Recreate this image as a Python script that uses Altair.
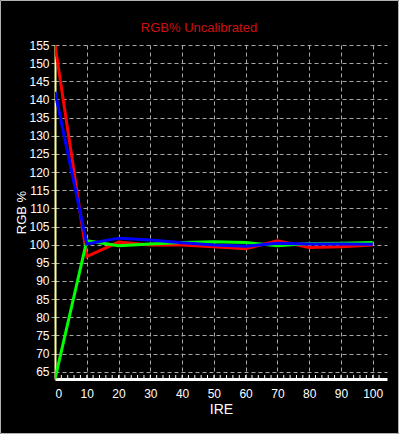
import altair as alt
import pandas as pd

ire = [0, 10, 20, 30, 40, 50, 60, 70, 80, 90, 100]
red = [155.0, 96.7, 100.7, 99.9, 99.9, 99.4, 98.9, 101.1, 99.2, 99.4, 99.9]
green = [63.0, 101.1, 99.7, 100.2, 100.6, 100.8, 100.6, 99.7, 100.3, 100.4, 100.6]
blue = [142.1, 100.2, 101.8, 101.3, 100.5, 99.9, 99.6, 100.4, 100.2, 100.2, 100.1]

series = ["Red", "Green", "Blue"]
colors = ["#ff0000", "#00ff00", "#0000ff"]

y_ticks = list(range(65, 156, 5))
x_ticks = list(range(0, 101, 10))
minor_ticks = list(range(2, 104, 2))

title_text = "RGB% Uncalibrated"

rows = []
for name, vals in zip(series, [red, green, blue]):
    for i, v in zip(ire, vals):
        rows.append({"IRE": i, "value": v, "series": name, "order": series.index(name)})
df = pd.DataFrame(rows)

W, H = 332, 334
xscale = alt.Scale(domain=[0, 104.5], nice=False, zero=False)
yscale = alt.Scale(domain=[63, 155], nice=False, zero=False)

grid_color = "#a8a8a8"

base_x = alt.Axis(
    values=x_ticks, grid=True, gridColor=grid_color, gridDash=[4, 3], gridWidth=1,
    domainColor="#ffffff", domainWidth=3, ticks=False,
    labelColor="#ffffff", labelFont="Liberation Sans", labelFontSize=12, labelPadding=9,
    title="IRE", titleColor="#ffffff", titleFont="Liberation Sans", titleFontSize=14,
    titleFontWeight="normal", titlePadding=3,
)
base_y = alt.Axis(
    values=y_ticks, grid=True, gridColor=grid_color, gridDash=[4, 3], gridWidth=1,
    domainColor="#ffff99", domainWidth=2, ticks=True, tickColor=grid_color, tickSize=4,
    labelColor="#ffffff", labelFont="Liberation Sans", labelFontSize=12, labelPadding=2,
    title="RGB %", titleColor="#ffffff", titleFont="Liberation Sans", titleFontSize=13,
    titleFontWeight="normal", titlePadding=0,
)

lines = alt.Chart(df).mark_line(strokeWidth=3, clip=True).encode(
    x=alt.X("IRE:Q", scale=xscale, axis=base_x),
    y=alt.Y("value:Q", scale=yscale, axis=base_y),
    color=alt.Color("series:N", scale=alt.Scale(domain=series, range=colors), legend=None),
    detail="series:N",
    order="order:Q",
)

minor_df = pd.DataFrame({"IRE": minor_ticks})
minor = alt.Chart(minor_df).mark_rule(color="#ffffff", strokeWidth=1).encode(
    x=alt.X("IRE:Q", scale=xscale, axis=base_x),
    y=alt.value(H - 4),
    y2=alt.value(H),
)

one = pd.DataFrame({"k": [0]})
border = alt.Chart(one).mark_rect(fill=None, stroke="#b0b0b0", strokeWidth=1, filled=False).encode(
    x=alt.value(-54.5), x2=alt.value(W + 11.5), y=alt.value(-44.5), y2=alt.value(H + 54.5)
)

title = alt.Chart(one).mark_text(
    text=title_text, color="#d01010", font="Liberation Sans", fontSize=13,
    align="center", baseline="alphabetic",
).encode(x=alt.value(144), y=alt.value(-13))

chart = alt.layer(lines, minor, border, title).properties(
    width=W, height=H,
    autosize=alt.AutoSizeParams(type="none"),
    padding={"left": 55, "top": 45, "right": 12, "bottom": 55},
    background="#000000",
).configure_view(stroke=None, fill="#000000")

chart.save("out.html", embed_options={"renderer": "svg", "actions": False})
